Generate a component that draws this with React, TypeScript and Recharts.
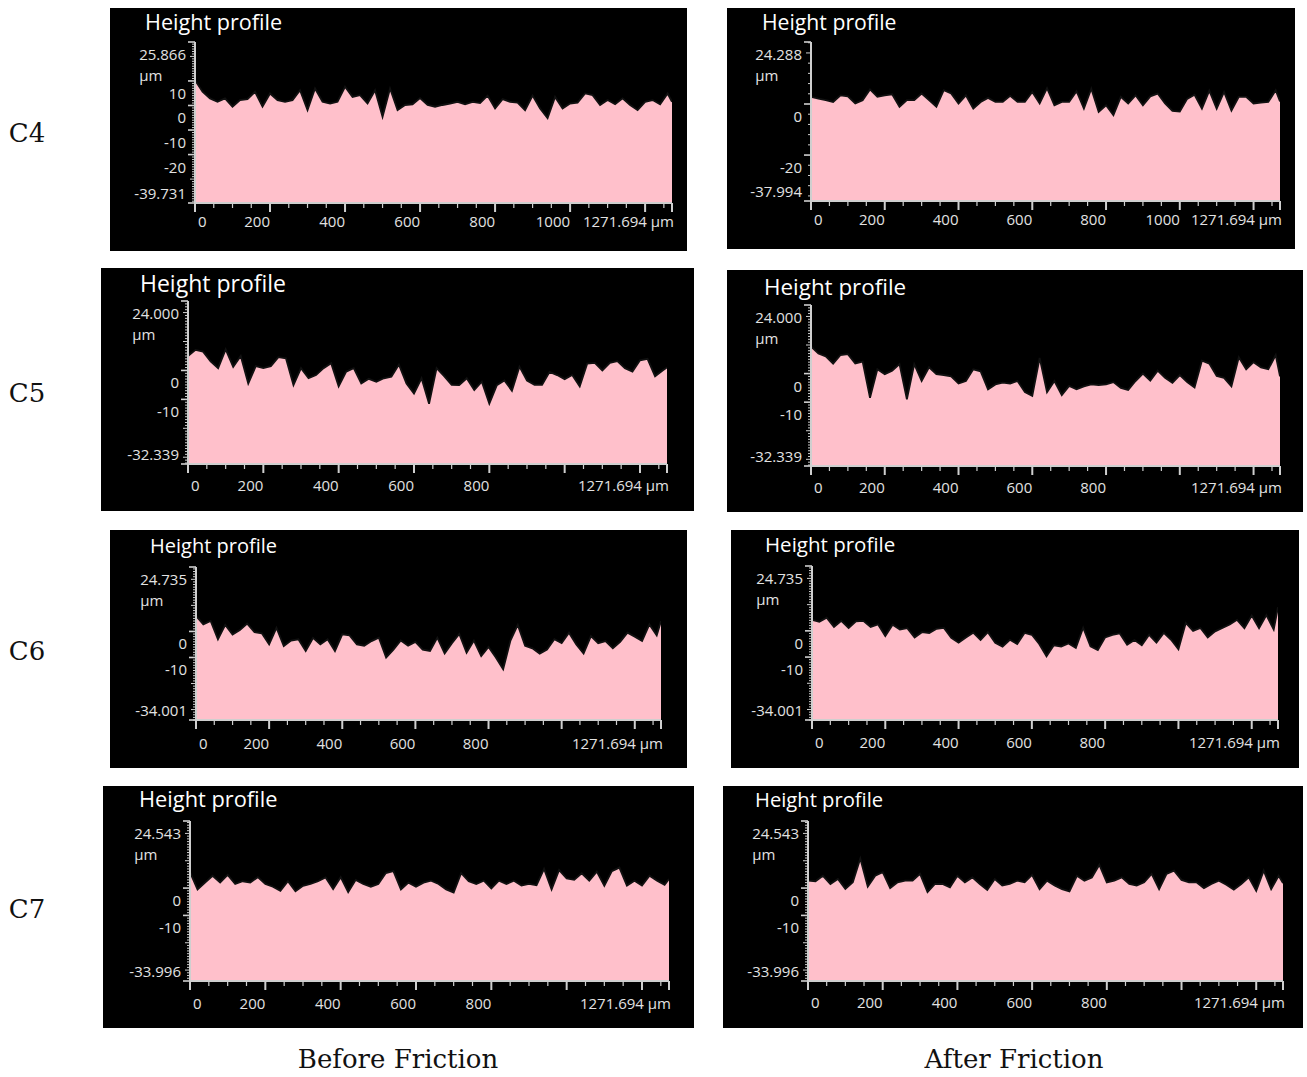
import { AreaChart, Area, XAxis, YAxis } from "recharts";

// sampling positions along the scan line (µm)
const X_POS = [
  0, 20, 40, 60, 80, 100, 120, 140, 160, 180, 200, 220, 240, 260, 280, 300, 320, 340, 360, 380,
  400, 420, 440, 460, 480, 500, 520, 540, 560, 580, 600, 620, 640, 660, 680, 700, 720, 740, 760, 780,
  800, 820, 840, 860, 880, 900, 920, 940, 960, 980, 1000, 1020, 1040, 1060, 1080, 1100, 1120, 1140,
  1160, 1180, 1200, 1220, 1240, 1260, 1271.694,
];
const X_MAX = 1271.694;
const X_LABELS_LONG = [0, 200, 400, 600, 800, 1000];
const X_LABELS = [0, 200, 400, 600, 800];

// height values (µm)
const C4_BEFORE = [
  10.3, 5.6, 2.9, 1.5, 2.9, -0.5, 2.2, 2.6, 5.6, -0.5,
  4.9, 2.2, 1.5, 2.2, 6.2, -1.9, 6.9, 1.5, 0.8, 1.5,
  7.6, 3.5, 4.2, 0.8, 6.2, -4.6, 6.9, -1.9, 0.2, 0.5,
  3.0, 0.2, -0.5, 0.2, 0.8, 1.5, 0.5, 1.5, 1.0, 4.0,
  -1.2, 2.6, 1.5, 1.2, -1.9, 4.0, -1.2, -5.2, 3.5, -1.2,
  0.8, 1.2, 4.9, 4.2, 0.2, 2.2, 0.5, 2.9, 0.2, -1.9,
  1.5, 2.2, 0.5, 4.9, 1.5,
];
const C4_AFTER = [
  2.8, 2.1, 1.5, 0.8, 3.4, 3.0, 0.2, 1.5, 5.7, 2.8,
  3.4, 3.8, -1.1, 1.5, 1.5, 4.1, 1.5, -1.1, 5.4, 4.1,
  0.2, 3.4, -1.8, 0.8, 2.4, 0.8, 0.8, 3.2, 0.8, 0.8,
  4.7, 0.2, 6.2, -0.5, 0.8, 0.8, 5.0, -1.8, 6.0, -3.1,
  -0.5, -4.4, 2.8, 0.2, 3.4, -0.5, 3.0, 4.1, 0.2, -2.7,
  -3.0, 2.0, 3.6, -1.8, 5.2, -1.8, 4.7, -2.6, 2.8, 2.8,
  0.2, 0.5, 0.8, 5.4, 1.0,
];
const C5_BEFORE = [
  5.0, 7.1, 6.5, 3.1, 0.8, 7.3, 1.2, 5.0, -4.5, 1.5,
  0.8, 1.5, 4.6, 4.2, -5.1, 0.8, -2.7, -1.6, 0.8, 2.5,
  -5.5, -0.4, 0.8, -4.5, -2.9, -3.9, -2.7, -2.2, 2.0, -4.5,
  -8.0, -2.7, -11.5, 0.8, -2.0, -5.0, -5.1, -2.7, -6.8, -3.9,
  -11.5, -5.1, -3.5, -7.0, 1.3, -3.5, -5.0, -5.0, -0.5, -1.6,
  -3.0, -1.6, -5.5, 2.4, 2.6, 0.0, 2.6, 3.2, 0.8, -0.4,
  3.5, 4.0, -2.0, 0.0, 1.0,
];
const C5_AFTER = [
  9.5, 7.0, 6.0, 3.5, 6.5, 6.8, 3.5, 4.2, -8.5, 1.5,
  -0.2, 1.0, 3.3, -9.0, 3.3, -2.6, 2.2, -0.2, -0.5, -1.0,
  -3.5, -2.6, 1.5, 0.8, -5.5, -3.8, -3.2, -3.5, -2.6, -6.5,
  -7.8, 5.5, -6.5, -2.6, -7.5, -4.3, -5.5, -4.5, -3.8, -4.0,
  -3.8, -3.0, -5.0, -5.7, -2.6, 0.0, -2.5, 1.0, -1.5, -3.2,
  -0.5, -3.0, -4.9, 4.5, 3.5, -0.8, -1.5, -4.5, 5.7, 1.5,
  4.0, 2.2, 1.5, 6.5, -1.0,
];
const C6_BEFORE = [
  6.0, 2.7, 4.0, -3.0, 2.5, -1.2, 0.5, 3.0, -0.3, -0.7,
  -5.0, 1.4, -5.6, -3.5, -3.0, -7.5, -2.5, -5.0, -3.0, -7.5,
  -1.1, -1.5, -5.0, -5.5, -3.7, -2.4, -10.0, -7.0, -3.5, -5.5,
  -4.0, -7.0, -7.5, -2.4, -8.5, -4.5, -1.0, -8.2, -3.5, -9.5,
  -6.0, -10.0, -14.5, -3.5, 2.5, -5.5, -6.5, -8.5, -7.0, -3.0,
  -4.5, -0.5, -5.0, -8.5, -1.8, -4.5, -3.7, -6.5, -4.0, -0.5,
  -2.0, -3.7, 2.7, -1.5, 4.0,
];
const C6_AFTER = [
  4.2, 3.5, 5.0, 1.5, 3.8, 1.1, 3.6, 3.8, 1.5, 2.5,
  -2.0, 2.3, 0.5, 1.0, -2.5, -0.5, -0.8, 0.8, 1.1, -2.7,
  -4.5, -2.5, -0.7, -3.5, -0.5, -4.6, -6.0, -3.4, -5.0, -0.8,
  -1.5, -5.0, -9.7, -5.5, -6.0, -4.8, -6.5, 1.2, -5.9, -7.3,
  -2.5, -1.5, -1.0, -5.3, -3.5, -5.5, -1.5, -4.5, -0.8, -3.4,
  -7.0, 3.0, 0.0, 1.1, -2.5, -0.2, 1.1, 2.4, 4.2, 1.0,
  5.8, 1.0, 6.0, 0.5, 9.0,
];
const C7_BEFORE = [
  5.8, -0.5, 2.0, 4.5, 2.0, 4.8, 1.5, 2.5, 2.0, 4.0,
  1.5, 0.5, -1.0, 2.5, -1.2, 0.8, 1.5, 2.5, 3.9, -0.4,
  4.0, -1.5, 3.0, 1.5, 0.5, 1.5, 5.5, 6.2, -0.5, 2.0,
  0.5, 2.0, 2.7, 1.5, -0.5, -1.6, 5.5, 2.5, 1.5, 2.7,
  -0.1, 2.7, 1.5, 2.7, 0.9, 1.5, 1.0, 7.0, -0.5, 6.6,
  3.5, 3.0, 5.4, 2.7, 6.0, 0.8, 6.2, 7.5, 0.9, 2.7,
  0.9, 4.5, 2.7, 1.2, 3.3,
];
const C7_AFTER = [
  2.7, 2.5, 4.5, 1.5, 3.3, -0.3, 2.1, 10.8, 0.5, 4.5,
  5.8, 0.0, 2.1, 2.7, 2.7, 5.2, -1.5, 1.5, 1.5, 0.3,
  4.5, 2.1, 3.9, 1.5, -0.7, 3.3, 0.9, 1.5, 2.7, 2.1,
  4.8, -0.4, 2.7, 1.0, -0.4, -1.2, 4.5, 2.7, 3.9, 8.5,
  2.1, 2.7, 3.9, 1.5, 0.9, 2.1, 5.2, -0.4, 5.2, 6.4,
  3.0, 2.1, 2.1, 0.0, 1.5, 2.7, 1.2, -0.6, 1.5, 3.9,
  -1.0, 6.4, -0.4, 4.5, 1.8,
];

const ROW_LABELS = ["C4", "C5", "C6", "C7"];
const COLUMN_LABELS = ["Before Friction", "After Friction"];

interface PanelDef {
  values: number[];
  yMax: number;
  yMin: number;
  yLabels: number[];
  xLabels: number[];
  minorStep: number;
}

const PANELS: PanelDef[] = [
  { values: C4_BEFORE, yMax: 25.866, yMin: -39.731, yLabels: [10, 0, -10, -20], xLabels: X_LABELS_LONG, minorStep: 1 },
  { values: C4_AFTER, yMax: 24.288, yMin: -37.994, yLabels: [0, -20], xLabels: X_LABELS_LONG, minorStep: 4 },
  { values: C5_BEFORE, yMax: 24.0, yMin: -32.339, yLabels: [0, -10], xLabels: X_LABELS, minorStep: 1 },
  { values: C5_AFTER, yMax: 24.0, yMin: -32.339, yLabels: [0, -10], xLabels: X_LABELS, minorStep: 1 },
  { values: C6_BEFORE, yMax: 24.735, yMin: -34.001, yLabels: [0, -10], xLabels: X_LABELS, minorStep: 1 },
  { values: C6_AFTER, yMax: 24.735, yMin: -34.001, yLabels: [0, -10], xLabels: X_LABELS, minorStep: 1 },
  { values: C7_BEFORE, yMax: 24.543, yMin: -33.996, yLabels: [0, -10], xLabels: X_LABELS, minorStep: 1 },
  { values: C7_AFTER, yMax: 24.543, yMin: -33.996, yLabels: [0, -10], xLabels: X_LABELS, minorStep: 1 },
];

// page layout of each black panel and its plot area
interface Box {
  left: number; top: number; width: number; height: number;
  x0: number; x1: number; yTop: number; yBot: number;
  titleX: number; titleY: number; titleSize: number; xDy: number;
}

const BOXES: Box[] = [
  { left: 110, top: 8, width: 577, height: 243, x0: 195, x1: 672, yTop: 42, yBot: 203, titleX: 145, titleY: 22, titleSize: 21.6, xDy: 18 },
  { left: 727, top: 8, width: 568, height: 241, x0: 811, x1: 1280, yTop: 42, yBot: 201, titleX: 762, titleY: 22, titleSize: 21.2, xDy: 18 },
  { left: 101, top: 268, width: 593, height: 243, x0: 188, x1: 667, yTop: 301, yBot: 464, titleX: 140, titleY: 283, titleSize: 23, xDy: 21 },
  { left: 727, top: 270, width: 576, height: 242, x0: 811, x1: 1280, yTop: 305, yBot: 466, titleX: 764, titleY: 287, titleSize: 22.4, xDy: 21 },
  { left: 110, top: 530, width: 577, height: 238, x0: 196, x1: 661, yTop: 567, yBot: 720, titleX: 150, titleY: 546, titleSize: 20, xDy: 23 },
  { left: 731, top: 530, width: 568, height: 238, x0: 812, x1: 1278, yTop: 566, yBot: 720, titleX: 765, titleY: 544, titleSize: 20.5, xDy: 22 },
  { left: 103, top: 786, width: 591, height: 242, x0: 190, x1: 669, yTop: 821, yBot: 981, titleX: 139, titleY: 799, titleSize: 21.8, xDy: 22 },
  { left: 723, top: 786, width: 580, height: 242, x0: 808, x1: 1283, yTop: 821, yBot: 981, titleX: 755, titleY: 799, titleSize: 20.2, xDy: 21 },
];

const FONT = "'Open Sans', 'Noto Sans', sans-serif";
const SERIF = "'DejaVu Serif', serif";
const AXIS = "#cfcfcf";
const LABEL = "#e2e2e2";
const PINK = "#ffc0cb";
const Y_AXIS_W = 60;
const X_AXIS_H = 30;
const TICK_FS = 15;

const X_TICKS: number[] = [];
for (let v = 0; v < X_MAX; v += 50) X_TICKS.push(v);
X_TICKS.push(X_MAX);

function buildYTicks(def: PanelDef) {
  const set = new Set<number>([def.yMax, def.yMin, ...def.yLabels]);
  for (let v = Math.ceil(def.yMin / def.minorStep) * def.minorStep; v <= def.yMax; v += def.minorStep) {
    set.add(v);
  }
  return Array.from(set).sort((a, b) => a - b);
}

function Panel({ def, box }: { def: PanelDef; box: Box }) {
  const data = X_POS.map((x, i) => ({ x, h: def.values[i] }));
  const yTicks = buildYTicks(def);
  const margin = {
    top: box.yTop - box.top,
    right: box.left + box.width - box.x1,
    bottom: box.top + box.height - box.yBot - X_AXIS_H,
    left: box.x0 - box.left - Y_AXIS_W,
  };

  const yTick = (p: any) => {
    const { x, y, payload } = p;
    const v = payload.value as number;
    const isTop = v === def.yMax;
    const isBottom = v === def.yMin;
    const labeled = isTop || isBottom || def.yLabels.includes(v);
    const len = labeled ? 7 : Math.abs(v % 10) < 1e-9 ? 5 : 3;
    const text = isTop || isBottom ? v.toFixed(3) : String(v);
    return (
      <g>
        <line x1={x - len} x2={x} y1={y} y2={y} stroke={AXIS} strokeWidth={labeled ? 1.6 : 1} />
        {labeled && (
          <text x={x - 9} y={y + (isBottom ? -10 : 12)} textAnchor="end" dominantBaseline="central"
            fill={LABEL} fontSize={TICK_FS} fontFamily={FONT}>
            {text}
          </text>
        )}
        {isTop && (
          <text x={x - 9 - text.length * 0.52 * TICK_FS} y={y + 33} textAnchor="start" dominantBaseline="central"
            fill={LABEL} fontSize={TICK_FS} fontFamily={FONT}>
            µm
          </text>
        )}
      </g>
    );
  };

  const xTick = (p: any) => {
    const { x, y, payload } = p;
    const v = payload.value as number;
    const isEnd = v === X_MAX;
    const major = isEnd || v % 200 === 0;
    let label: string | null = null;
    let anchor: "start" | "end" = "end";
    let lx = x;
    if (isEnd) {
      label = `${X_MAX} µm`;
      lx = x + 2;
    } else if (def.xLabels.includes(v)) {
      label = String(v);
      if (v === 0) {
        anchor = "start";
        lx = x + 3;
      }
    }
    return (
      <g>
        <line x1={x} x2={x} y1={y} y2={y + (major ? 9 : 5)} stroke={AXIS} strokeWidth={major ? 2 : 1.2} />
        {label && (
          <text x={lx} y={y + box.xDy} textAnchor={anchor} dominantBaseline="central"
            fill={LABEL} fontSize={TICK_FS} fontFamily={FONT}>
            {label}
          </text>
        )}
      </g>
    );
  };

  return (
    <div style={{ position: "absolute", left: box.left, top: box.top, width: box.width, height: box.height, background: "#000" }}>
      <AreaChart width={box.width} height={box.height} data={data} margin={margin}>
        <XAxis
          type="number"
          dataKey="x"
          domain={[0, X_MAX]}
          ticks={X_TICKS}
          interval={0}
          height={X_AXIS_H}
          tickSize={0}
          tickMargin={0}
          tickLine={false}
          axisLine={{ stroke: AXIS, strokeWidth: 2 }}
          tick={xTick}
          allowDataOverflow
        />
        <YAxis
          type="number"
          domain={[def.yMin, def.yMax]}
          ticks={yTicks}
          interval={0}
          width={Y_AXIS_W}
          tickSize={0}
          tickMargin={0}
          tickLine={false}
          axisLine={{ stroke: AXIS, strokeWidth: 2 }}
          tick={yTick}
          allowDataOverflow
        />
        <Area
          type="linear"
          dataKey="h"
          baseValue={def.yMin}
          fill={PINK}
          fillOpacity={1}
          stroke="#111"
          strokeWidth={1.8}
          dot={false}
          activeDot={false}
          isAnimationActive={false}
        />
      </AreaChart>
      <div
        style={{
          position: "absolute",
          left: box.titleX - box.left,
          top: box.titleY - box.top,
          transform: "translateY(-50%)",
          color: "#fff",
          fontFamily: FONT,
          fontSize: box.titleSize,
          lineHeight: 1,
          whiteSpace: "nowrap",
        }}
      >
        Height profile
      </div>
    </div>
  );
}

const ROW_Y = [133, 393, 651, 909];
const COL_X = [398, 1014];

export default function App() {
  return (
    <div style={{ position: "absolute", left: 0, top: 0, width: 1307, height: 1077, background: "#fff", overflow: "hidden" }}>
      {PANELS.map((def, i) => (
        <Panel key={i} def={def} box={BOXES[i]} />
      ))}
      {ROW_LABELS.map((t, i) => (
        <div key={t} style={{ position: "absolute", left: 27, top: ROW_Y[i], transform: "translate(-50%, -50%)", fontFamily: SERIF, fontSize: 26, color: "#111", lineHeight: 1 }}>
          {t}
        </div>
      ))}
      {COLUMN_LABELS.map((t, i) => (
        <div key={t} style={{ position: "absolute", left: COL_X[i], top: 1059, transform: "translate(-50%, -50%)", fontFamily: SERIF, fontSize: 26, color: "#111", lineHeight: 1, whiteSpace: "nowrap" }}>
          {t}
        </div>
      ))}
    </div>
  );
}
